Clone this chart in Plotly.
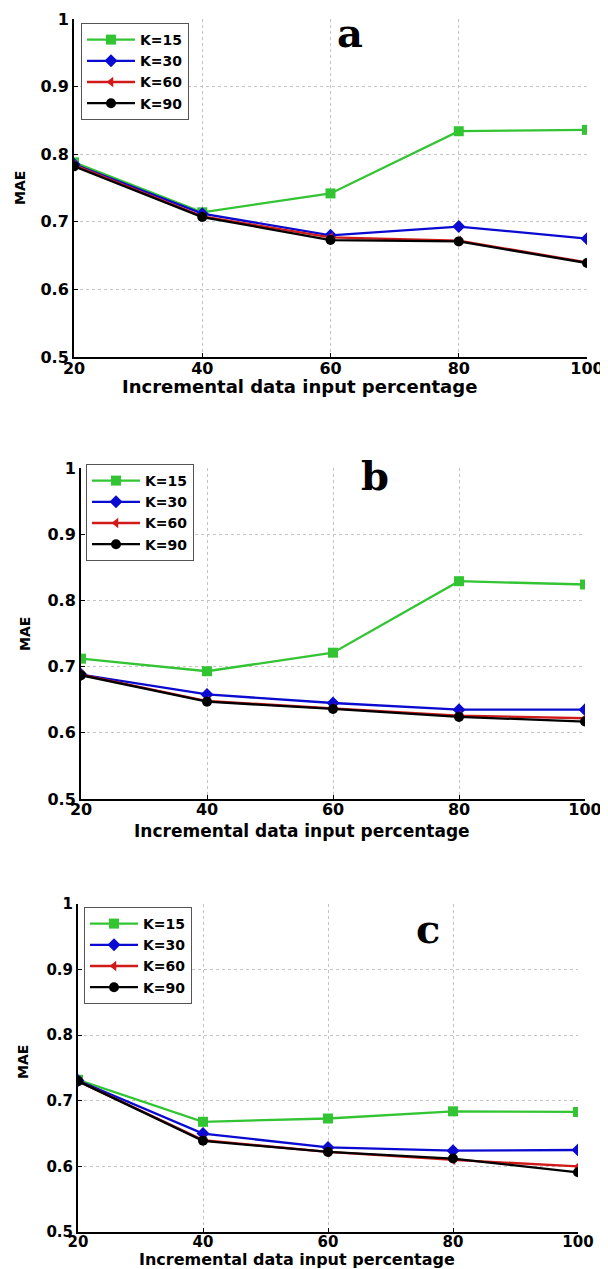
import plotly.graph_objects as go

# browser page has an 8px body margin; figure is sized to fit the window
OFF = 8
W, H = 608 - OFF, 1269 - OFF

x_pct = [20, 40, 60, 80, 100]
series_names = ["K=15", "K=30", "K=60", "K=90"]

# Panel a
a_k15 = [0.788, 0.714, 0.742, 0.834, 0.836]
a_k30 = [0.785, 0.712, 0.680, 0.693, 0.675]
a_k60 = [0.784, 0.708, 0.677, 0.672, 0.640]
a_k90 = [0.782, 0.707, 0.673, 0.671, 0.639]

# Panel b
b_k15 = [0.712, 0.693, 0.721, 0.829, 0.824]
b_k30 = [0.688, 0.658, 0.645, 0.635, 0.635]
b_k60 = [0.688, 0.648, 0.637, 0.626, 0.622]
b_k90 = [0.687, 0.647, 0.636, 0.624, 0.617]

# Panel c
c_k15 = [0.732, 0.668, 0.673, 0.684, 0.683]
c_k30 = [0.731, 0.650, 0.629, 0.624, 0.625]
c_k60 = [0.730, 0.640, 0.622, 0.610, 0.600]
c_k90 = [0.730, 0.639, 0.622, 0.612, 0.591]

y_tickvals = [0.5, 0.6, 0.7, 0.8, 0.9, 1.0]
y_ticktext = ["0.5", "0.6", "0.7", "0.8", "0.9", "1"]
x_tickvals = [20, 40, 60, 80, 100]
x_ticktext = ["20", "40", "60", "80", "100"]
panel_letters = ["a", "b", "c"]
x_title = "Incremental data input percentage"
y_title = "MAE"

colors = ["#33c433", "#0a0ad0", "#d01a1a", "#000000"]
symbols = ["square", "diamond", "triangle-left", "circle"]
marker_sizes = [10, 10, 9, 10]

panels = [
    [a_k15, a_k30, a_k60, a_k90],
    [b_k15, b_k30, b_k60, b_k90],
    [c_k15, c_k30, c_k60, c_k90],
]

# pixel layout in window coordinates: (left, right, top, bottom)
boxes = [(74, 587, 19, 357), (81, 585, 468, 799), (78, 578, 904, 1232)]
legend_pos = [(81, 23), (86, 464), (84, 907)]
letter_pos = [(350, 32), (375, 475), (428, 928)]
xlabel_pos = [(299, 386), (302, 831), (297, 1259)]
ylabel_pos = [(20, 188), (25, 634), (23, 1062)]
xlabel_sizes = [18, 17, 16]
tick_sizes = [16, 16, 15]
x_standoff = [-4, -5, -5]

def px(xp):
    return (xp - OFF) / W

def py(yp):
    return 1 - (yp - OFF) / H

fig = go.Figure()
font_fam = "DejaVu Sans, Liberation Sans, Arial, sans-serif"

layout = dict(
    template="none",
    width=W, height=H,
    margin=dict(l=0, r=0, t=0, b=0, autoexpand=False),
    paper_bgcolor="white", plot_bgcolor="white",
    showlegend=True,
    annotations=[],
)

for i, data in enumerate(panels):
    sfx = "" if i == 0 else str(i + 1)
    leg = "legend" if i == 0 else f"legend{i + 1}"
    for j, vals in enumerate(data):
        fig.add_trace(go.Scatter(
            x=x_pct, y=vals, name=series_names[j],
            mode="lines+markers",
            line=dict(color=colors[j], width=2.3),
            marker=dict(symbol=symbols[j], size=marker_sizes[j], color=colors[j],
                        line=dict(width=0)),
            xaxis="x" + sfx, yaxis="y" + sfx,
            legend=leg,
        ))
    l, r, t, b = boxes[i]
    common = dict(
        showline=True, linecolor="black", linewidth=2,
        showgrid=True, gridcolor="#c4c4c4", griddash="dot", gridwidth=1,
        zeroline=False, ticks="inside", ticklen=4, tickcolor="black",
        tickfont=dict(family=font_fam, size=tick_sizes[i], color="black", weight="bold"),
        mirror=False, automargin=False,
    )
    layout["xaxis" + sfx] = dict(
        domain=[px(l), px(r)], range=[20, 100], anchor="y" + sfx,
        tickvals=x_tickvals, ticktext=x_ticktext,
        ticklabelstandoff=x_standoff[i], **common)
    layout["yaxis" + sfx] = dict(
        domain=[py(b), py(t)], range=[0.5, 1.0], anchor="x" + sfx,
        tickvals=y_tickvals, ticktext=y_ticktext, **common)
    lx, ly = legend_pos[i]
    layout[leg] = dict(
        x=px(lx), y=py(ly), xanchor="left", yanchor="top",
        xref="paper", yref="paper",
        bgcolor="white", bordercolor="#555555", borderwidth=1,
        font=dict(family=font_fam, size=14, color="black", weight="bold"),
        itemwidth=48, tracegroupgap=0,
    )
    ax, ay = letter_pos[i]
    layout["annotations"].append(dict(
        x=px(ax), y=py(ay), xref="paper", yref="paper", showarrow=False,
        text=panel_letters[i], xanchor="center", yanchor="middle",
        font=dict(family="DejaVu Serif, serif", size=40, color="black", weight="bold"),
    ))
    xx, xy = xlabel_pos[i]
    layout["annotations"].append(dict(
        x=px(xx), y=py(xy), xref="paper", yref="paper", showarrow=False,
        text=x_title, xanchor="center", yanchor="middle",
        font=dict(family=font_fam, size=xlabel_sizes[i], color="black", weight="bold"),
    ))
    yx, yy = ylabel_pos[i]
    layout["annotations"].append(dict(
        x=px(yx), y=py(yy), xref="paper", yref="paper", showarrow=False,
        text=y_title, textangle=-90, xanchor="center", yanchor="middle",
        font=dict(family=font_fam, size=14, color="black", weight="bold"),
    ))

fig.update_layout(**layout)
fig.write_html("out.html")
